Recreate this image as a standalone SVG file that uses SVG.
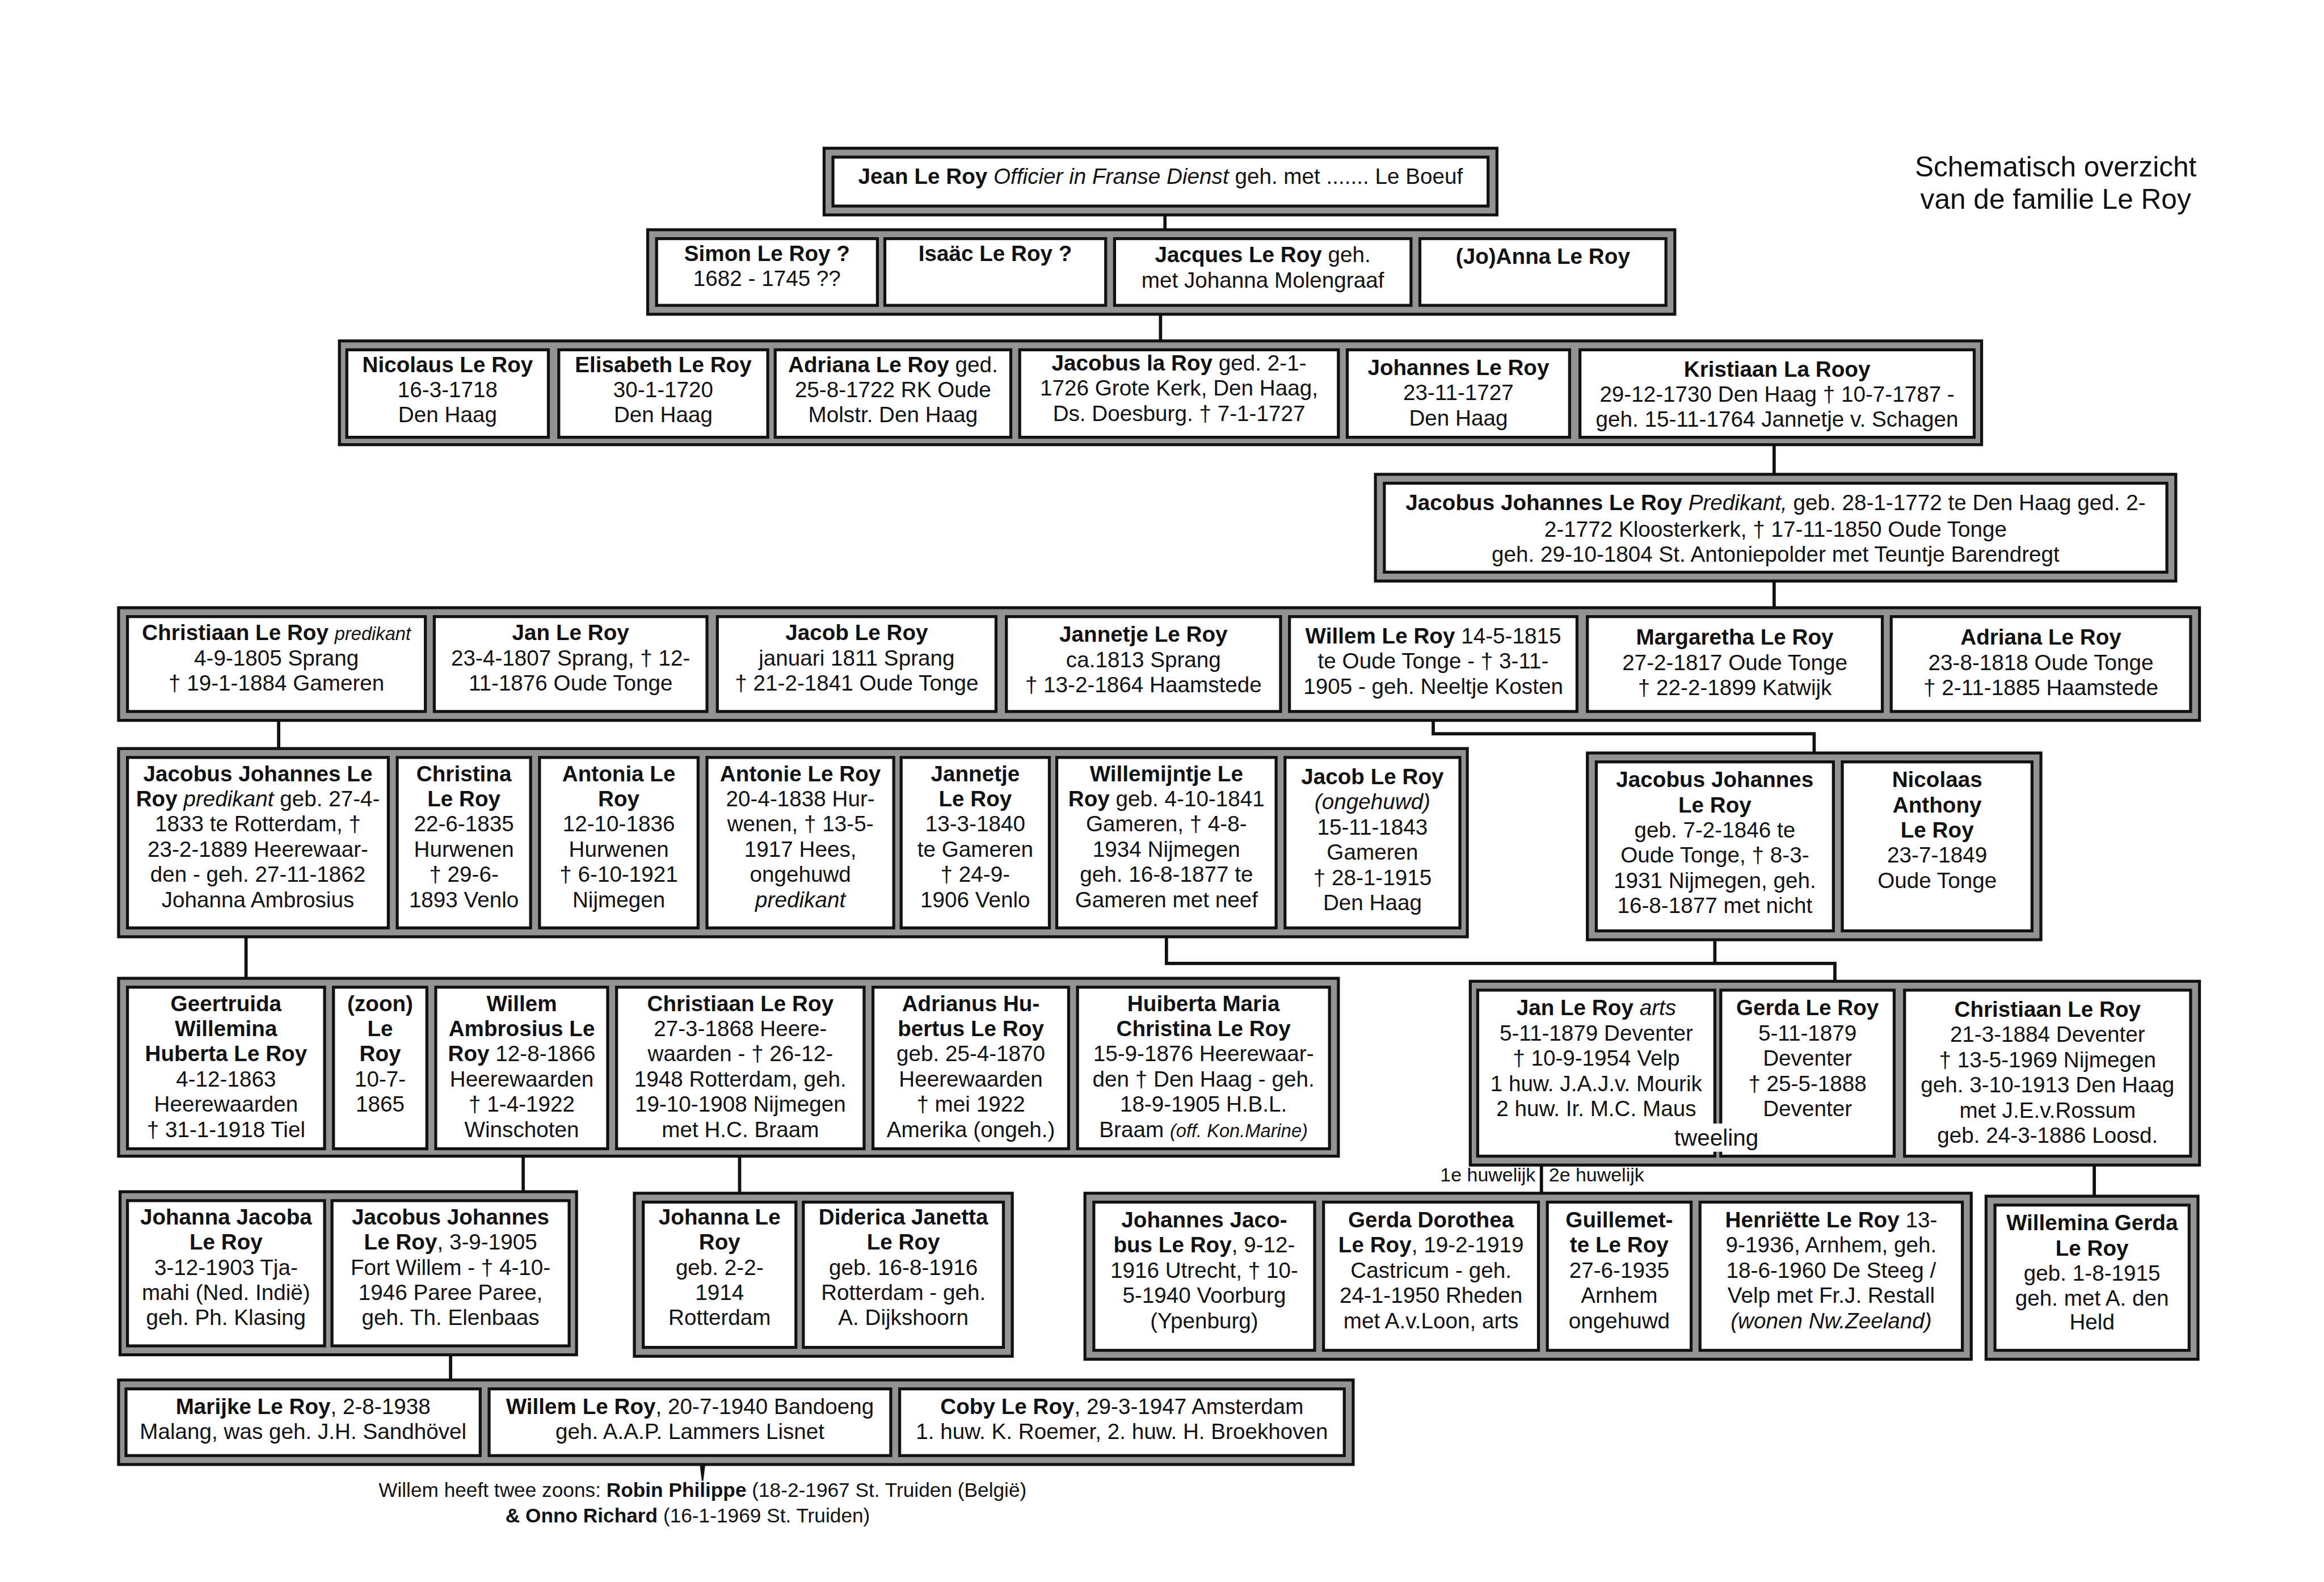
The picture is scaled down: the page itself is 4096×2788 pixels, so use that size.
<svg xmlns="http://www.w3.org/2000/svg" width="4096" height="2788" viewBox="0 0 4096 2788">
<style>
.fr{fill:#939393;stroke:#111;stroke-width:2}
.bx{fill:#fff;stroke:#111;stroke-width:2}
.ln{fill:none;stroke:#111;stroke-width:2.2}
.t{font-family:"Liberation Sans",Arial,Helvetica,sans-serif;font-size:14.8px;text-anchor:middle;fill:#111}
.b{font-weight:bold}
.i{font-style:italic}
.s{font-size:12.5px}
.title{font-family:"Liberation Sans",Arial,Helvetica,sans-serif;font-size:19px;text-anchor:middle;fill:#111}
.lab{font-family:"Liberation Sans",Arial,Helvetica,sans-serif;font-size:13px;fill:#111}
.ft{font-family:"Liberation Sans",Arial,Helvetica,sans-serif;font-size:13.5px;text-anchor:middle;fill:#111}
</style>
<rect x="0" y="0" width="4096" height="2788" fill="#fff"/>
<g transform="scale(2.61224)">
<g id="connectors">
<path class="ln" d="M786 145V155"/>
<path class="ln" d="M783 212V230"/>
<path class="ln" d="M1197 300V320"/>
<path class="ln" d="M1197 392V410"/>
<path class="ln" d="M188 486V505"/>
<path class="ln" d="M967 486V495H1224V508"/>
<path class="ln" d="M166 632V660"/>
<path class="ln" d="M787 632V650H1238V662"/>
<path class="ln" d="M1157 634V650"/>
<path class="ln" d="M353 780V804"/>
<path class="ln" d="M499 780V805"/>
<path class="ln" d="M1040 786V805"/>
<path class="ln" d="M1413 786V807"/>
<path class="ln" d="M304 914V931"/>
<polygon points="472,987 476,987 474.5,999 473.5,999" fill="#111"/>
<text class="lab" x="1036" y="797" text-anchor="end">1e huwelijk</text>
<text class="lab" x="1045" y="797">2e huwelijk</text>
</g>

<g id="title">
<text class="title" x="1387" y="119">Schematisch overzicht</text>
<text class="title" x="1387" y="141">van de familie Le Roy</text>
</g>

<g id="n-jean">
<rect class="fr" x="556" y="100" width="454" height="45"/>
<rect class="bx" x="562" y="106" width="442" height="33"/>
<text class="t" x="783" y="124"><tspan class="b">Jean Le Roy</tspan>  <tspan class="i">Officier in Franse Dienst</tspan> geh. met ....... Le Boeuf</text>
</g>

<g id="row2">
<rect class="fr" x="437" y="155" width="693" height="57"/>
<g id="n-simon"><rect class="bx" x="443" y="161" width="149" height="45"/>
<text class="t" x="517.5" y="176"><tspan class="b">Simon Le Roy ?</tspan></text>
<text class="t" x="517.5" y="193">1682 - 1745 ??</text></g>
<g id="n-isaac"><rect class="bx" x="597" y="161" width="149" height="45"/>
<text class="t" x="671.5" y="176"><tspan class="b">Isaäc Le Roy ?</tspan></text></g>
<g id="n-jacques"><rect class="bx" x="752" y="161" width="200" height="45"/>
<text class="t" x="852" y="177"><tspan class="b">Jacques Le Roy</tspan>   geh.</text>
<text class="t" x="852" y="194">met Johanna Molengraaf</text></g>
<g id="n-anna"><rect class="bx" x="958" y="161" width="166" height="45"/>
<text class="t" x="1041" y="178"><tspan class="b">(Jo)Anna Le Roy</tspan></text></g>
</g>

<g id="row3">
<rect class="fr" x="229" y="230" width="1108" height="70"/>
<g id="n-nicolaus"><rect class="bx" x="234" y="236" width="136" height="59"/>
<text class="t" x="302" y="251"><tspan class="b">Nicolaus Le Roy</tspan></text>
<text class="t" x="302" y="268">16-3-1718</text>
<text class="t" x="302" y="285">Den Haag</text></g>
<g id="n-elisabeth"><rect class="bx" x="377" y="236" width="141" height="59"/>
<text class="t" x="447.5" y="251"><tspan class="b">Elisabeth Le Roy</tspan></text>
<text class="t" x="447.5" y="268">30-1-1720</text>
<text class="t" x="447.5" y="285">Den Haag</text></g>
<g id="n-adriana1"><rect class="bx" x="523" y="236" width="159" height="59"/>
<text class="t" x="602.5" y="251"><tspan class="b">Adriana Le Roy</tspan> ged.</text>
<text class="t" x="602.5" y="268">25-8-1722 RK Oude</text>
<text class="t" x="602.5" y="285">Molstr. Den Haag</text></g>
<g id="n-jacobus-la"><rect class="bx" x="688" y="236" width="215" height="59"/>
<text class="t" x="795.5" y="250"><tspan class="b">Jacobus la Roy</tspan>  ged. 2-1-</text>
<text class="t" x="795.5" y="267">1726 Grote Kerk, Den Haag,</text>
<text class="t" x="795.5" y="284">Ds. Doesburg.  † 7-1-1727</text></g>
<g id="n-johannes"><rect class="bx" x="909" y="236" width="150" height="59"/>
<text class="t" x="984" y="253"><tspan class="b">Johannes Le Roy</tspan></text>
<text class="t" x="984" y="270">23-11-1727</text>
<text class="t" x="984" y="287">Den Haag</text></g>
<g id="n-kristiaan"><rect class="bx" x="1066" y="236" width="266" height="59"/>
<text class="t" x="1199" y="254"><tspan class="b">Kristiaan La Rooy</tspan></text>
<text class="t" x="1199" y="271">29-12-1730 Den Haag † 10-7-1787 -</text>
<text class="t" x="1199" y="288">geh. 15-11-1764 Jannetje v. Schagen</text></g>
</g>

<g id="n-jacobus-johannes-1772">
<rect class="fr" x="928" y="320" width="540" height="72"/>
<rect class="bx" x="934" y="326" width="528" height="60"/>
<text class="t" x="1198" y="344"><tspan class="b">Jacobus Johannes Le Roy</tspan> <tspan class="i">Predikant,</tspan>  geb. 28-1-1772 te Den Haag ged. 2-</text>
<text class="t" x="1198" y="362">2-1772 Kloosterkerk, † 17-11-1850 Oude Tonge</text>
<text class="t" x="1198" y="379">geh. 29-10-1804 St. Antoniepolder met Teuntje Barendregt</text>
</g>

<g id="row5">
<rect class="fr" x="80" y="410" width="1404" height="76"/>
<g id="n-christiaan-1805"><rect class="bx" x="86" y="416" width="201" height="64"/>
<text class="t" x="186.5" y="432"><tspan class="b">Christiaan Le Roy</tspan> <tspan class="i s">predikant</tspan></text>
<text class="t" x="186.5" y="449">4-9-1805 Sprang</text>
<text class="t" x="186.5" y="466">† 19-1-1884 Gameren</text></g>
<g id="n-jan-1807"><rect class="bx" x="293" y="416" width="184" height="64"/>
<text class="t" x="385" y="432"><tspan class="b">Jan Le Roy</tspan></text>
<text class="t" x="385" y="449">23-4-1807 Sprang, † 12-</text>
<text class="t" x="385" y="466">11-1876 Oude Tonge</text></g>
<g id="n-jacob-1811"><rect class="bx" x="484" y="416" width="188" height="64"/>
<text class="t" x="578" y="432"><tspan class="b">Jacob Le Roy</tspan></text>
<text class="t" x="578" y="449">januari 1811 Sprang</text>
<text class="t" x="578" y="466">† 21-2-1841 Oude Tonge</text></g>
<g id="n-jannetje-1813"><rect class="bx" x="679" y="416" width="185" height="64"/>
<text class="t" x="771.5" y="433"><tspan class="b">Jannetje Le Roy</tspan></text>
<text class="t" x="771.5" y="450">ca.1813 Sprang</text>
<text class="t" x="771.5" y="467">† 13-2-1864 Haamstede</text></g>
<g id="n-willem-1815"><rect class="bx" x="870" y="416" width="194" height="64"/>
<text class="t" x="967" y="434"><tspan class="b">Willem Le Roy</tspan> 14-5-1815</text>
<text class="t" x="967" y="451">te Oude Tonge - † 3-11-</text>
<text class="t" x="967" y="468">1905 - geh. Neeltje Kosten</text></g>
<g id="n-margaretha"><rect class="bx" x="1071" y="416" width="199" height="64"/>
<text class="t" x="1170.5" y="435"><tspan class="b">Margaretha Le Roy</tspan></text>
<text class="t" x="1170.5" y="452">27-2-1817 Oude Tonge</text>
<text class="t" x="1170.5" y="469">† 22-2-1899 Katwijk</text></g>
<g id="n-adriana-1818"><rect class="bx" x="1276" y="416" width="202" height="64"/>
<text class="t" x="1377" y="435"><tspan class="b">Adriana Le Roy</tspan></text>
<text class="t" x="1377" y="452">23-8-1818 Oude Tonge</text>
<text class="t" x="1377" y="469">† 2-11-1885 Haamstede</text></g>
</g>

<g id="row6-left">
<rect class="fr" x="80" y="505" width="910" height="127"/>
<g id="n-jacobus-johannes-1833"><rect class="bx" x="86" y="511" width="176" height="115"/>
<text class="t" x="174" y="527"><tspan class="b">Jacobus Johannes Le</tspan></text>
<text class="t" x="174" y="544"><tspan class="b">Roy</tspan> <tspan class="i">predikant</tspan> geb. 27-4-</text>
<text class="t" x="174" y="561">1833 te Rotterdam, †</text>
<text class="t" x="174" y="578">23-2-1889 Heerewaar-</text>
<text class="t" x="174" y="595">den - geh. 27-11-1862</text>
<text class="t" x="174" y="612">Johanna Ambrosius</text></g>
<g id="n-christina"><rect class="bx" x="268" y="511" width="90" height="115"/>
<text class="t" x="313" y="527"><tspan class="b">Christina</tspan></text>
<text class="t" x="313" y="544"><tspan class="b">Le Roy</tspan></text>
<text class="t" x="313" y="561">22-6-1835</text>
<text class="t" x="313" y="578">Hurwenen</text>
<text class="t" x="313" y="595">† 29-6-</text>
<text class="t" x="313" y="612">1893 Venlo</text></g>
<g id="n-antonia"><rect class="bx" x="364" y="511" width="107" height="115"/>
<text class="t" x="417.5" y="527"><tspan class="b">Antonia Le</tspan></text>
<text class="t" x="417.5" y="544"><tspan class="b">Roy</tspan></text>
<text class="t" x="417.5" y="561">12-10-1836</text>
<text class="t" x="417.5" y="578">Hurwenen</text>
<text class="t" x="417.5" y="595">† 6-10-1921</text>
<text class="t" x="417.5" y="612">Nijmegen</text></g>
<g id="n-antonie"><rect class="bx" x="477" y="511" width="126" height="115"/>
<text class="t" x="540" y="527"><tspan class="b">Antonie Le Roy</tspan></text>
<text class="t" x="540" y="544">20-4-1838 Hur-</text>
<text class="t" x="540" y="561">wenen, † 13-5-</text>
<text class="t" x="540" y="578">1917 Hees,</text>
<text class="t" x="540" y="595">ongehuwd</text>
<text class="t" x="540" y="612"><tspan class="i">predikant</tspan></text></g>
<g id="n-jannetje-1840"><rect class="bx" x="608" y="511" width="100" height="115"/>
<text class="t" x="658" y="527"><tspan class="b">Jannetje</tspan></text>
<text class="t" x="658" y="544"><tspan class="b">Le Roy</tspan></text>
<text class="t" x="658" y="561">13-3-1840</text>
<text class="t" x="658" y="578">te Gameren</text>
<text class="t" x="658" y="595">† 24-9-</text>
<text class="t" x="658" y="612">1906 Venlo</text></g>
<g id="n-willemijntje"><rect class="bx" x="713" y="511" width="148" height="115"/>
<text class="t" x="787" y="527"><tspan class="b">Willemijntje Le</tspan></text>
<text class="t" x="787" y="544"><tspan class="b">Roy</tspan> geb. 4-10-1841</text>
<text class="t" x="787" y="561">Gameren, † 4-8-</text>
<text class="t" x="787" y="578">1934 Nijmegen</text>
<text class="t" x="787" y="595">geh. 16-8-1877 te</text>
<text class="t" x="787" y="612">Gameren met neef</text></g>
<g id="n-jacob-1843"><rect class="bx" x="867" y="511" width="118" height="115"/>
<text class="t" x="926" y="529"><tspan class="b">Jacob Le Roy</tspan></text>
<text class="t" x="926" y="546"><tspan class="i">(ongehuwd)</tspan></text>
<text class="t" x="926" y="563">15-11-1843</text>
<text class="t" x="926" y="580">Gameren</text>
<text class="t" x="926" y="597">† 28-1-1915</text>
<text class="t" x="926" y="614">Den Haag</text></g>
</g>

<g id="row6-right">
<rect class="fr" x="1071" y="508" width="306" height="126"/>
<g id="n-jacobus-johannes-1846"><rect class="bx" x="1077" y="514" width="160" height="114"/>
<text class="t" x="1157" y="531"><tspan class="b">Jacobus Johannes</tspan></text>
<text class="t" x="1157" y="548"><tspan class="b">Le Roy</tspan></text>
<text class="t" x="1157" y="565">geb. 7-2-1846 te</text>
<text class="t" x="1157" y="582">Oude Tonge, † 8-3-</text>
<text class="t" x="1157" y="599">1931 Nijmegen, geh.</text>
<text class="t" x="1157" y="616">16-8-1877 met nicht</text></g>
<g id="n-nicolaas"><rect class="bx" x="1243" y="514" width="128" height="114"/>
<text class="t" x="1307" y="531"><tspan class="b">Nicolaas</tspan></text>
<text class="t" x="1307" y="548"><tspan class="b">Anthony</tspan></text>
<text class="t" x="1307" y="565"><tspan class="b">Le Roy</tspan></text>
<text class="t" x="1307" y="582">23-7-1849</text>
<text class="t" x="1307" y="599">Oude Tonge</text></g>
</g>

<g id="row7-left">
<rect class="fr" x="80" y="660" width="823" height="120"/>
<g id="n-geertruida"><rect class="bx" x="86" y="666" width="133" height="109"/>
<text class="t" x="152.5" y="682"><tspan class="b">Geertruida</tspan></text>
<text class="t" x="152.5" y="699"><tspan class="b">Willemina</tspan></text>
<text class="t" x="152.5" y="716"><tspan class="b">Huberta Le Roy</tspan></text>
<text class="t" x="152.5" y="733">4-12-1863</text>
<text class="t" x="152.5" y="750">Heerewaarden</text>
<text class="t" x="152.5" y="767">† 31-1-1918 Tiel</text></g>
<g id="n-zoon"><rect class="bx" x="225" y="666" width="63" height="109"/>
<text class="t" x="256.5" y="682"><tspan class="b">(zoon)</tspan></text>
<text class="t" x="256.5" y="699"><tspan class="b">Le</tspan></text>
<text class="t" x="256.5" y="716"><tspan class="b">Roy</tspan></text>
<text class="t" x="256.5" y="733">10-7-</text>
<text class="t" x="256.5" y="750">1865</text></g>
<g id="n-willem-1866"><rect class="bx" x="294" y="666" width="116" height="109"/>
<text class="t" x="352" y="682"><tspan class="b">Willem</tspan></text>
<text class="t" x="352" y="699"><tspan class="b">Ambrosius Le</tspan></text>
<text class="t" x="352" y="716"><tspan class="b">Roy</tspan> 12-8-1866</text>
<text class="t" x="352" y="733">Heerewaarden</text>
<text class="t" x="352" y="750">† 1-4-1922</text>
<text class="t" x="352" y="767">Winschoten</text></g>
<g id="n-christiaan-1868"><rect class="bx" x="416" y="666" width="167" height="109"/>
<text class="t" x="499.5" y="682"><tspan class="b">Christiaan Le Roy</tspan></text>
<text class="t" x="499.5" y="699">27-3-1868 Heere-</text>
<text class="t" x="499.5" y="716">waarden - † 26-12-</text>
<text class="t" x="499.5" y="733">1948 Rotterdam, geh.</text>
<text class="t" x="499.5" y="750">19-10-1908 Nijmegen</text>
<text class="t" x="499.5" y="767">met H.C. Braam</text></g>
<g id="n-adrianus"><rect class="bx" x="589" y="666" width="132" height="109"/>
<text class="t" x="655" y="682"><tspan class="b">Adrianus Hu-</tspan></text>
<text class="t" x="655" y="699"><tspan class="b">bertus Le Roy</tspan></text>
<text class="t" x="655" y="716">geb. 25-4-1870</text>
<text class="t" x="655" y="733">Heerewaarden</text>
<text class="t" x="655" y="750">† mei 1922</text>
<text class="t" x="655" y="767">Amerika (ongeh.)</text></g>
<g id="n-huiberta"><rect class="bx" x="727" y="666" width="170" height="109"/>
<text class="t" x="812" y="682"><tspan class="b">Huiberta Maria</tspan></text>
<text class="t" x="812" y="699"><tspan class="b">Christina Le Roy</tspan></text>
<text class="t" x="812" y="716">15-9-1876 Heerewaar-</text>
<text class="t" x="812" y="733">den † Den Haag - geh.</text>
<text class="t" x="812" y="750">18-9-1905 H.B.L.</text>
<text class="t" x="812" y="767">Braam <tspan class="i s">(off. Kon.Marine)</tspan></text></g>
</g>

<g id="row7-right">
<rect class="fr" x="992" y="662" width="492" height="124"/>
<g id="n-jan-1879"><rect class="bx" x="997" y="668" width="160" height="112"/>
<text class="t" x="1077" y="685"><tspan class="b">Jan Le Roy</tspan> <tspan class="i">arts</tspan></text>
<text class="t" x="1077" y="702">5-11-1879 Deventer</text>
<text class="t" x="1077" y="719">† 10-9-1954 Velp</text>
<text class="t" x="1077" y="736">1 huw. J.A.J.v. Mourik</text>
<text class="t" x="1077" y="753">2 huw. Ir. M.C. Maus</text></g>
<g id="n-gerda-1879"><rect class="bx" x="1161" y="668" width="117" height="112"/>
<text class="t" x="1219.5" y="685"><tspan class="b">Gerda Le Roy</tspan></text>
<text class="t" x="1219.5" y="702">5-11-1879</text>
<text class="t" x="1219.5" y="719">Deventer</text>
<text class="t" x="1219.5" y="736">† 25-5-1888</text>
<text class="t" x="1219.5" y="753">Deventer</text></g>
<rect x="1128" y="758" width="60" height="19" fill="#fff"/>
<text class="t" x="1158" y="773" style="font-size:15.5px">tweeling</text>
<g id="n-christiaan-1884"><rect class="bx" x="1285" y="668" width="193" height="112"/>
<text class="t" x="1381.5" y="686"><tspan class="b">Christiaan Le Roy</tspan></text>
<text class="t" x="1381.5" y="703">21-3-1884 Deventer</text>
<text class="t" x="1381.5" y="720">† 13-5-1969 Nijmegen</text>
<text class="t" x="1381.5" y="737">geh. 3-10-1913 Den Haag</text>
<text class="t" x="1381.5" y="754">met J.E.v.Rossum</text>
<text class="t" x="1381.5" y="771">geb. 24-3-1886 Loosd.</text></g>
</g>

<g id="row8-a">
<rect class="fr" x="81" y="804" width="308" height="110"/>
<g id="n-johanna-jacoba"><rect class="bx" x="86" y="810" width="133" height="98"/>
<text class="t" x="152.5" y="826"><tspan class="b">Johanna Jacoba</tspan></text>
<text class="t" x="152.5" y="843"><tspan class="b">Le Roy</tspan></text>
<text class="t" x="152.5" y="860">3-12-1903 Tja-</text>
<text class="t" x="152.5" y="877">mahi (Ned. Indië)</text>
<text class="t" x="152.5" y="894">geh. Ph. Klasing</text></g>
<g id="n-jacobus-johannes-1905"><rect class="bx" x="224" y="810" width="160" height="98"/>
<text class="t" x="304" y="826"><tspan class="b">Jacobus Johannes</tspan></text>
<text class="t" x="304" y="843"><tspan class="b">Le Roy</tspan>, 3-9-1905</text>
<text class="t" x="304" y="860">Fort Willem - † 4-10-</text>
<text class="t" x="304" y="877">1946 Paree Paree,</text>
<text class="t" x="304" y="894">geh. Th. Elenbaas</text></g>
</g>

<g id="row8-b">
<rect class="fr" x="428" y="805" width="255" height="110"/>
<g id="n-johanna-1914"><rect class="bx" x="434" y="811" width="103" height="98"/>
<text class="t" x="485.5" y="826"><tspan class="b">Johanna Le</tspan></text>
<text class="t" x="485.5" y="843"><tspan class="b">Roy</tspan></text>
<text class="t" x="485.5" y="860">geb. 2-2-</text>
<text class="t" x="485.5" y="877">1914</text>
<text class="t" x="485.5" y="894">Rotterdam</text></g>
<g id="n-diderica"><rect class="bx" x="542" y="811" width="135" height="98"/>
<text class="t" x="609.5" y="826"><tspan class="b">Diderica Janetta</tspan></text>
<text class="t" x="609.5" y="843"><tspan class="b">Le Roy</tspan></text>
<text class="t" x="609.5" y="860">geb. 16-8-1916</text>
<text class="t" x="609.5" y="877">Rotterdam - geh.</text>
<text class="t" x="609.5" y="894">A. Dijkshoorn</text></g>
</g>

<g id="row8-c">
<rect class="fr" x="732" y="805" width="598" height="112"/>
<g id="n-johannes-jacobus"><rect class="bx" x="738" y="811" width="149" height="100"/>
<text class="t" x="812.5" y="828"><tspan class="b">Johannes Jaco-</tspan></text>
<text class="t" x="812.5" y="845"><tspan class="b">bus Le Roy</tspan>, 9-12-</text>
<text class="t" x="812.5" y="862">1916 Utrecht, † 10-</text>
<text class="t" x="812.5" y="879">5-1940 Voorburg</text>
<text class="t" x="812.5" y="896">(Ypenburg)</text></g>
<g id="n-gerda-dorothea"><rect class="bx" x="893" y="811" width="145" height="100"/>
<text class="t" x="965.5" y="828"><tspan class="b">Gerda Dorothea</tspan></text>
<text class="t" x="965.5" y="845"><tspan class="b">Le Roy</tspan>, 19-2-1919</text>
<text class="t" x="965.5" y="862">Castricum - geh.</text>
<text class="t" x="965.5" y="879">24-1-1950 Rheden</text>
<text class="t" x="965.5" y="896">met A.v.Loon, arts</text></g>
<g id="n-guillemette"><rect class="bx" x="1044" y="811" width="97" height="100"/>
<text class="t" x="1092.5" y="828"><tspan class="b">Guillemet-</tspan></text>
<text class="t" x="1092.5" y="845"><tspan class="b">te Le Roy</tspan></text>
<text class="t" x="1092.5" y="862">27-6-1935</text>
<text class="t" x="1092.5" y="879">Arnhem</text>
<text class="t" x="1092.5" y="896">ongehuwd</text></g>
<g id="n-henriette"><rect class="bx" x="1147" y="811" width="177" height="100"/>
<text class="t" x="1235.5" y="828"><tspan class="b">Henriëtte Le Roy</tspan> 13-</text>
<text class="t" x="1235.5" y="845">9-1936, Arnhem, geh.</text>
<text class="t" x="1235.5" y="862">18-6-1960 De Steeg /</text>
<text class="t" x="1235.5" y="879">Velp met Fr.J. Restall</text>
<text class="t" x="1235.5" y="896"><tspan class="i">(wonen Nw.Zeeland)</tspan></text></g>
</g>

<g id="n-willemina-gerda">
<rect class="fr" x="1340" y="807" width="143" height="110"/>
<rect class="bx" x="1346" y="813" width="131" height="98"/>
<text class="t" x="1411.5" y="830"><tspan class="b">Willemina Gerda</tspan></text>
<text class="t" x="1411.5" y="847"><tspan class="b">Le Roy</tspan></text>
<text class="t" x="1411.5" y="864">geb. 1-8-1915</text>
<text class="t" x="1411.5" y="881">geh. met A. den</text>
<text class="t" x="1411.5" y="897">Held</text>
</g>

<g id="row9">
<rect class="fr" x="80" y="931" width="833" height="57"/>
<g id="n-marijke"><rect class="bx" x="85" y="937" width="239" height="45"/>
<text class="t" x="204.5" y="954"><tspan class="b">Marijke Le Roy</tspan>, 2-8-1938</text>
<text class="t" x="204.5" y="971">Malang, was geh. J.H. Sandhövel</text></g>
<g id="n-willem-1940"><rect class="bx" x="330" y="937" width="271" height="45"/>
<text class="t" x="465.5" y="954"><tspan class="b">Willem Le Roy</tspan>, 20-7-1940 Bandoeng</text>
<text class="t" x="465.5" y="971">geh. A.A.P. Lammers Lisnet</text></g>
<g id="n-coby"><rect class="bx" x="607" y="937" width="300" height="45"/>
<text class="t" x="757" y="954"><tspan class="b">Coby Le Roy</tspan>, 29-3-1947 Amsterdam</text>
<text class="t" x="757" y="971">1. huw. K. Roemer, 2. huw. H. Broekhoven</text></g>
</g>

<g id="footer">
<text class="ft" x="474" y="1010">Willem heeft twee zoons: <tspan class="b">Robin Philippe</tspan> (18-2-1967 St. Truiden (België)</text>
<text class="ft" x="464" y="1027"><tspan class="b">&amp; Onno Richard</tspan> (16-1-1969 St. Truiden)</text>
</g>
</g>
</svg>
